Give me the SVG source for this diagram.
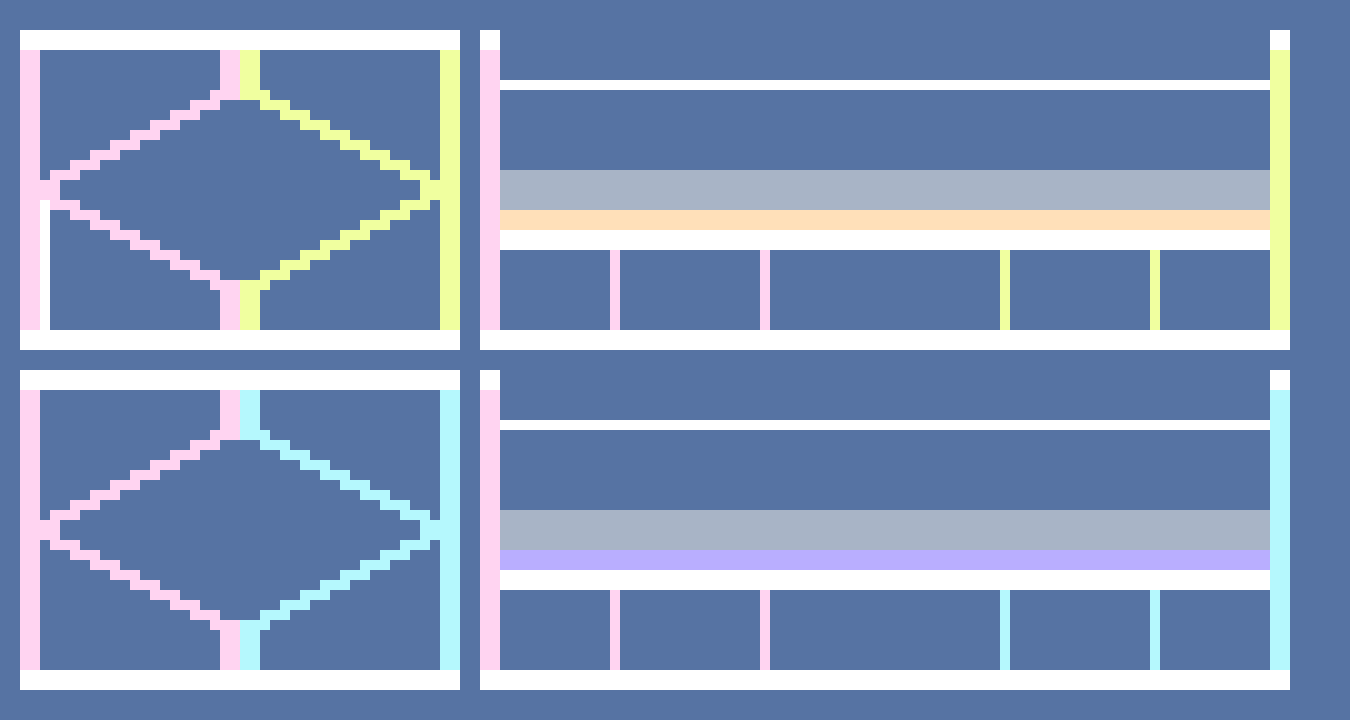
<svg xmlns="http://www.w3.org/2000/svg" xmlns:xlink="http://www.w3.org/1999/xlink" width="1350" height="720" viewBox="0 0 1350 720" shape-rendering="crispEdges">
<style>
.bg{fill:#5673A3}
.w{fill:#FFFFFF}
.pk{fill:#FFD4F1}
.yl{fill:#F0FF9F}
.cy{fill:#B5F8FD}
.gr{fill:#A8B4C6}
.pe{fill:#FFE0B9}
.lv{fill:#B9AEFF}
</style>
<defs>
<g id="half">
<rect x="20" y="50" width="20" height="280"/>
<rect x="220" y="50" width="20" height="50"/>
<rect x="210" y="90" width="30" height="10"/>
<rect x="190" y="100" width="30" height="10"/>
<rect x="170" y="110" width="30" height="10"/>
<rect x="150" y="120" width="30" height="10"/>
<rect x="130" y="130" width="30" height="10"/>
<rect x="110" y="140" width="30" height="10"/>
<rect x="90" y="150" width="30" height="10"/>
<rect x="70" y="160" width="30" height="10"/>
<rect x="50" y="170" width="30" height="10"/>
<rect x="40" y="180" width="20" height="20"/>
<rect x="50" y="200" width="30" height="10"/>
<rect x="70" y="210" width="30" height="10"/>
<rect x="90" y="220" width="30" height="10"/>
<rect x="110" y="230" width="30" height="10"/>
<rect x="130" y="240" width="30" height="10"/>
<rect x="150" y="250" width="30" height="10"/>
<rect x="170" y="260" width="30" height="10"/>
<rect x="190" y="270" width="30" height="10"/>
<rect x="210" y="280" width="30" height="10"/>
<rect x="220" y="280" width="20" height="50"/>
</g>
<g id="frameL">
<rect x="20" y="30" width="440" height="20"/>
<rect x="20" y="330" width="440" height="20"/>
</g>
<g id="frameR">
<rect x="480" y="30" width="20" height="20"/>
<rect x="1270" y="30" width="20" height="20"/>
<rect x="500" y="80" width="770" height="10"/>
<rect x="500" y="230" width="770" height="20"/>
<rect x="480" y="330" width="810" height="20"/>
</g>
</defs>
<rect class="bg" x="0" y="0" width="1350" height="720"/>

<g id="panel-top-left">
<use xlink:href="#frameL" class="w"/>
<rect class="w" x="40" y="200" width="10" height="130"/>
<use xlink:href="#half" class="pk"/>
<use xlink:href="#half" class="yl" transform="translate(480,0) scale(-1,1)"/>
</g>

<g id="panel-top-right">
<use xlink:href="#frameR" class="w"/>
<rect class="gr" x="500" y="170" width="770" height="40"/>
<rect class="pe" x="500" y="210" width="770" height="20"/>
<rect class="pk" x="480" y="50" width="20" height="280"/>
<rect class="yl" x="1270" y="50" width="20" height="280"/>
<rect class="pk" x="610" y="250" width="10" height="80"/>
<rect class="pk" x="760" y="250" width="10" height="80"/>
<rect class="yl" x="1000" y="250" width="10" height="80"/>
<rect class="yl" x="1150" y="250" width="10" height="80"/>
</g>

<g id="panel-bottom-left" transform="translate(0,340)">
<use xlink:href="#frameL" class="w"/>
<use xlink:href="#half" class="pk"/>
<use xlink:href="#half" class="cy" transform="translate(480,0) scale(-1,1)"/>
</g>

<g id="panel-bottom-right" transform="translate(0,340)">
<use xlink:href="#frameR" class="w"/>
<rect class="gr" x="500" y="170" width="770" height="40"/>
<rect class="lv" x="500" y="210" width="770" height="20"/>
<rect class="pk" x="480" y="50" width="20" height="280"/>
<rect class="cy" x="1270" y="50" width="20" height="280"/>
<rect class="pk" x="610" y="250" width="10" height="80"/>
<rect class="pk" x="760" y="250" width="10" height="80"/>
<rect class="cy" x="1000" y="250" width="10" height="80"/>
<rect class="cy" x="1150" y="250" width="10" height="80"/>
</g>

<g id="connectors"></g>
</svg>
